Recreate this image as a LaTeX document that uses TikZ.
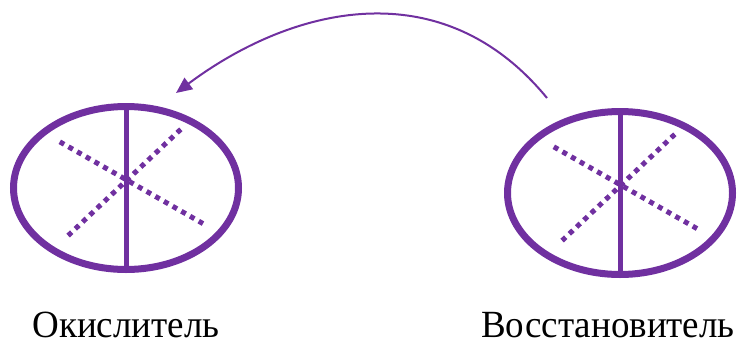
\documentclass[tikz,border=0pt]{standalone}
\usepackage{fontspec}
\setmainfont{Liberation Serif}
\usetikzlibrary{shapes.geometric,arrows.meta,calc}
\definecolor{vio}{HTML}{7030A0}
\tikzset{
  cell/.style={ellipse,draw=vio,line width=7pt,minimum width=225pt,minimum height=163pt,inner sep=0pt},
  axis/.style={draw=vio,line width=5pt},
  dots/.style={draw=vio,line width=5pt,dash pattern=on 5pt off 5pt},
  label/.style={font=\fontsize{37}{40}\selectfont,anchor=base,inner sep=0pt,yscale=1.04},
  flow/.style={draw=vio,line width=2pt,-{Triangle[length=16pt,width=14pt]}}
}
\begin{document}
\begin{tikzpicture}[x=1pt,y=-1pt]
\useasboundingbox (0,0) rectangle (738,343);
\node[cell] (L) at (126,188) {};
\node[cell] (R) at (620,193) {};
\foreach \n in {L,R}{
  \draw[axis] (\n.north) -- (\n.south);
  \draw[dots] ($(\n.center)+(-66.2,-46.2)$) -- ($(\n.center)+(77,35.6)$);
  \draw[dots] ($(\n.center)+(54.8,-58.7)$) -- ($(\n.center)+(-57.9,47.6)$);
}
\coordinate (s) at (547,98);
\coordinate (t) at (176,93);
\draw[flow] (s) .. controls (441,-31) and (291,7) .. (t);
\node[label] (lt) at (126,337.5) {Окислитель};
\node[label] (rt) at (608,337.5) {Восстановитель};
\end{tikzpicture}
\end{document}
